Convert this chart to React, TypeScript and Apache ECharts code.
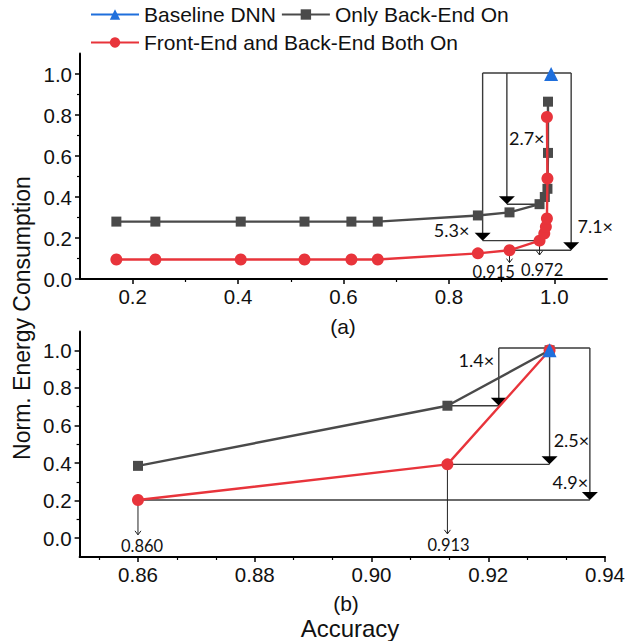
import React, { useEffect, useRef } from "react";
import * as echarts from "echarts";

const FONT = '"Liberation Sans", Arial, sans-serif';
const ANN_FONT = 'Lato, "Open Sans", sans-serif';

const SERIES_BASELINE = "Baseline DNN";
const SERIES_BACK = "Only Back-End On";
const SERIES_BOTH = "Front-End and Back-End Both On";

// ---------- (a) data ----------
const aBaselineAcc = [0.994];
const aBaselineEnergy = [1.0];
const aBackAcc = [0.169, 0.243, 0.405, 0.526, 0.615, 0.665, 0.855, 0.915, 0.972, 0.982, 0.987, 0.988, 0.988];
const aBackEnergy = [0.28, 0.28, 0.28, 0.28, 0.28, 0.28, 0.31, 0.325, 0.365, 0.4, 0.44, 0.615, 0.865];
const aBothAcc = [0.169, 0.243, 0.405, 0.526, 0.615, 0.665, 0.855, 0.915, 0.972, 0.981, 0.984, 0.986, 0.987, 0.986];
const aBothEnergy = [0.095, 0.095, 0.095, 0.095, 0.095, 0.095, 0.125, 0.14, 0.187, 0.222, 0.255, 0.295, 0.49, 0.79];

// ---------- (b) data ----------
const bBaselineAcc = [0.9305];
const bBaselineEnergy = [1.0];
const bBackAcc = [0.86, 0.913, 0.9305];
const bBackEnergy = [0.385, 0.705, 1.0];
const bBothAcc = [0.86, 0.913, 0.9305];
const bBothEnergy = [0.203, 0.393, 1.0];

// ---------- ticks ----------
const aXTicks = [0.2, 0.4, 0.6, 0.8, 1.0];
const aXMinor = [0.3, 0.5, 0.7, 0.9];
const aYTicks = [0, 0.2, 0.4, 0.6, 0.8, 1.0];
const aYMinor = [0.1, 0.3, 0.5, 0.7, 0.9];
const bXTicks = [0.86, 0.88, 0.9, 0.92, 0.94];
const bXMinor = [0.85333, 0.86667, 0.87333, 0.88667, 0.89333, 0.90667, 0.91333, 0.92667, 0.93333];
const bYTicks = [0, 0.2, 0.4, 0.6, 0.8, 1.0];
const bYMinor = [0.1, 0.3, 0.5, 0.7, 0.9];

// ---------- annotations (data coordinates) ----------
const aBracket = { topY: 1.005, span: [0.864, 1.032] };
const aDrops = [
  { x: 0.864, tip: 0.187, joinFrom: 0.972 },
  { x: 0.91, tip: 0.365, joinFrom: 0.972 },
  { x: 1.032, tip: 0.14, joinFrom: 0.915 },
];
const aRatioLabels = [
  { text: "5.3×", x: 0.839, y: 0.239, align: "right" },
  { text: "2.7×", x: 0.914, y: 0.69, align: "left" },
  { text: "7.1×", x: 1.044, y: 0.26, align: "left" },
];
const aAccMarks = [
  { x: 0.915, from: 0.14, to: 0.08, label: "0.915", lx: 0.885, ly: 0.036 },
  { x: 0.972, from: 0.187, to: 0.117, label: "0.972", lx: 0.977, ly: 0.046 },
];

const bBracket = { topY: 1.012, span: [0.9218, 0.9374] };
const bDrops = [
  { x: 0.9218, tip: 0.705, joinFrom: 0.913 },
  { x: 0.9305, tip: 0.393, joinFrom: 0.913 },
  { x: 0.9374, tip: 0.203, joinFrom: 0.86 },
];
const bRatioLabels = [
  { text: "1.4×", x: 0.9149, y: 0.95, align: "left" },
  { text: "2.5×", x: 0.9312, y: 0.522, align: "left" },
  { text: "4.9×", x: 0.931, y: 0.3, align: "left" },
];
const bAccMarks = [
  { x: 0.86, from: 0.203, to: 0.018, label: "0.860", lx: 0.8607, ly: -0.042 },
  { x: 0.913, from: 0.393, to: 0.023, label: "0.913", lx: 0.9132, ly: -0.037 },
];

const GRAY = "#4a4a4a";
const RED = "#e8343b";
const BLUE = "#1f6fdc";
const ANN = "#3a3a3a";

const zip = (xs: number[], ys: number[]) => xs.map((x, i) => [x, ys[i]]);

function lineSeries(name: string, xs: number[], ys: number[], idx: number, color: string, symbol: string, size: number, z: number) {
  return {
    type: "line",
    name,
    data: zip(xs, ys),
    xAxisIndex: idx,
    yAxisIndex: idx,
    symbol,
    symbolSize: size,
    showSymbol: true,
    lineStyle: { color, width: 2.4 },
    itemStyle: { color },
    z,
    clip: false,
  };
}

function annotationSeries(idx: number, bracket: any, drops: any[], ratios: any[], marks: any[]) {
  return {
    type: "custom",
    xAxisIndex: idx,
    yAxisIndex: idx,
    z: 1,
    silent: true,
    clip: false,
    data: [[bracket.span[0], bracket.topY]],
    renderItem: (_params: any, api: any) => {
      const c = (x: number, y: number) => api.coord([x, y]);
      const children: any[] = [];
      const lineStyle = { stroke: ANN, lineWidth: 1.4, fill: null };
      const l = c(bracket.span[0], bracket.topY);
      const r = c(bracket.span[1], bracket.topY);
      children.push({ type: "line", shape: { x1: l[0], y1: l[1], x2: r[0], y2: r[1] }, style: lineStyle });
      drops.forEach((d) => {
        const t = c(d.x, bracket.topY);
        const tip = c(d.x, d.tip);
        const from = c(d.joinFrom, d.tip);
        children.push({ type: "line", shape: { x1: t[0], y1: t[1], x2: tip[0], y2: tip[1] - 4 }, style: lineStyle });
        children.push({ type: "line", shape: { x1: from[0], y1: from[1], x2: tip[0], y2: tip[1] }, style: lineStyle });
        children.push({
          type: "polygon",
          shape: { points: [[tip[0] - 8, tip[1] - 8], [tip[0] + 8, tip[1] - 8], [tip[0], tip[1]]] },
          style: { fill: "#000" },
        });
      });
      ratios.forEach((t) => {
        const p = c(t.x, t.y);
        children.push({
          type: "text",
          x: p[0],
          y: p[1],
          style: {
            text: t.text,
            fill: "#111",
            fontSize: 18,
            fontFamily: ANN_FONT,
            align: t.align,
            verticalAlign: "middle",
            textAlign: t.align,
            textVerticalAlign: "middle",
          },
        });
      });
      marks.forEach((m) => {
        const a = c(m.x, m.from);
        const b = c(m.x, m.to);
        children.push({ type: "line", shape: { x1: a[0], y1: a[1], x2: b[0], y2: b[1] }, style: { stroke: "#222", lineWidth: 1 } });
        children.push({
          type: "polyline",
          shape: { points: [[b[0] - 3, b[1] - 4], [b[0], b[1]], [b[0] + 3, b[1] - 4]] },
          style: { stroke: "#222", lineWidth: 1, fill: null },
        });
        const lp = c(m.lx, m.ly);
        children.push({
          type: "text",
          x: lp[0],
          y: lp[1],
          style: {
            text: m.label,
            fill: "#111",
            fontSize: 16.5,
            fontFamily: ANN_FONT,
            align: "center",
            verticalAlign: "middle",
            textAlign: "center",
            textVerticalAlign: "middle",
          },
        });
      });
      return { type: "group", children };
    },
  };
}

function mainAxis(gridIndex: number, min: number, max: number, ticks: number[], digits: number, isX: boolean) {
  return {
    type: "value",
    gridIndex,
    min,
    max,
    position: isX ? "bottom" : "left",
    axisLine: { show: true, onZero: false, lineStyle: { color: "#000", width: 2 } },
    axisTick: { show: true, customValues: ticks, length: 5, lineStyle: { color: "#000", width: 1.5 } },
    axisLabel: {
      show: true,
      customValues: ticks,
      formatter: (v: number) => v.toFixed(digits),
      fontSize: 20.5,
      fontFamily: FONT,
      color: "#111",
      margin: isX ? 7 : 8,
    },
    splitLine: { show: false },
  };
}

function minorAxis(gridIndex: number, min: number, max: number, ticks: number[], isX: boolean) {
  return {
    type: "value",
    gridIndex,
    min,
    max,
    position: isX ? "bottom" : "left",
    axisLine: { show: false, onZero: false },
    axisTick: { show: true, customValues: ticks, length: 3, lineStyle: { color: "#000", width: 1.2 } },
    axisLabel: { show: false },
    splitLine: { show: false },
  };
}

export default function App() {
  const ref = useRef<HTMLDivElement>(null);
  useEffect(() => {
    if (!ref.current) return;
    const chart = echarts.init(ref.current, undefined, { renderer: "svg" });
    const legendText = { fontSize: 21, fontFamily: FONT, color: "#111" };
    chart.setOption({
      animation: false,
      backgroundColor: "#fff",
      legend: [
        {
          data: [SERIES_BASELINE, SERIES_BACK],
          left: 90,
          top: 4,
          padding: 0,
          itemWidth: 48,
          itemHeight: 13,
          itemGap: 5,
          selectedMode: false,
          textStyle: legendText,
        },
        {
          data: [SERIES_BOTH],
          left: 90,
          top: 32,
          padding: 0,
          itemWidth: 48,
          itemHeight: 13,
          itemGap: 5,
          selectedMode: false,
          textStyle: legendText,
        },
      ],
      grid: [
        { left: 80, top: 53.5, width: 527, height: 225.5 },
        { left: 79.6, top: 331.5, width: 526.8, height: 225.5 },
      ],
      xAxis: [
        mainAxis(0, 0.1, 1.1, aXTicks, 1, true),
        mainAxis(1, 0.85, 0.94, bXTicks, 2, true),
        minorAxis(0, 0.1, 1.1, aXMinor, true),
        minorAxis(1, 0.85, 0.94, bXMinor, true),
      ],
      yAxis: [
        mainAxis(0, 0, 1.1, aYTicks, 1, false),
        mainAxis(1, -0.1, 1.1, bYTicks, 1, false),
        minorAxis(0, 0, 1.1, aYMinor, false),
        minorAxis(1, -0.1, 1.1, bYMinor, false),
      ],
      graphic: [
        {
          type: "text",
          x: 343,
          y: 326,
          style: { text: "(a)", fontSize: 21, fontFamily: FONT, fill: "#111", textAlign: "center", textVerticalAlign: "middle" },
        },
        {
          type: "text",
          x: 346,
          y: 603,
          style: { text: "(b)", fontSize: 21, fontFamily: FONT, fill: "#111", textAlign: "center", textVerticalAlign: "middle" },
        },
        {
          type: "text",
          x: 350,
          y: 628,
          style: { text: "Accuracy", fontSize: 24, fontFamily: FONT, fill: "#111", textAlign: "center", textVerticalAlign: "middle" },
        },
        {
          type: "text",
          x: 22,
          y: 318,
          rotation: Math.PI / 2,
          style: { text: "Norm. Energy Consumption", fontSize: 23, fontFamily: FONT, fill: "#111", textAlign: "center", textVerticalAlign: "middle" },
        },
      ],
      series: [
        annotationSeries(0, aBracket, aDrops, aRatioLabels, aAccMarks),
        annotationSeries(1, bBracket, bDrops, bRatioLabels, bAccMarks),
        lineSeries(SERIES_BACK, aBackAcc, aBackEnergy, 0, GRAY, "rect", 10, 3),
        lineSeries(SERIES_BOTH, aBothAcc, aBothEnergy, 0, RED, "circle", 12, 4),
        lineSeries(SERIES_BASELINE, aBaselineAcc, aBaselineEnergy, 0, BLUE, "triangle", 14, 5),
        lineSeries(SERIES_BACK, bBackAcc, bBackEnergy, 1, GRAY, "rect", 10, 3),
        lineSeries(SERIES_BOTH, bBothAcc, bBothEnergy, 1, RED, "circle", 12, 4),
        lineSeries(SERIES_BASELINE, bBaselineAcc, bBaselineEnergy, 1, BLUE, "triangle", 14, 5),
      ],
    });
    return () => chart.dispose();
  }, []);
  return <div ref={ref} style={{ position: "absolute", left: 0, top: 0, width: 628, height: 641 }} />;
}
